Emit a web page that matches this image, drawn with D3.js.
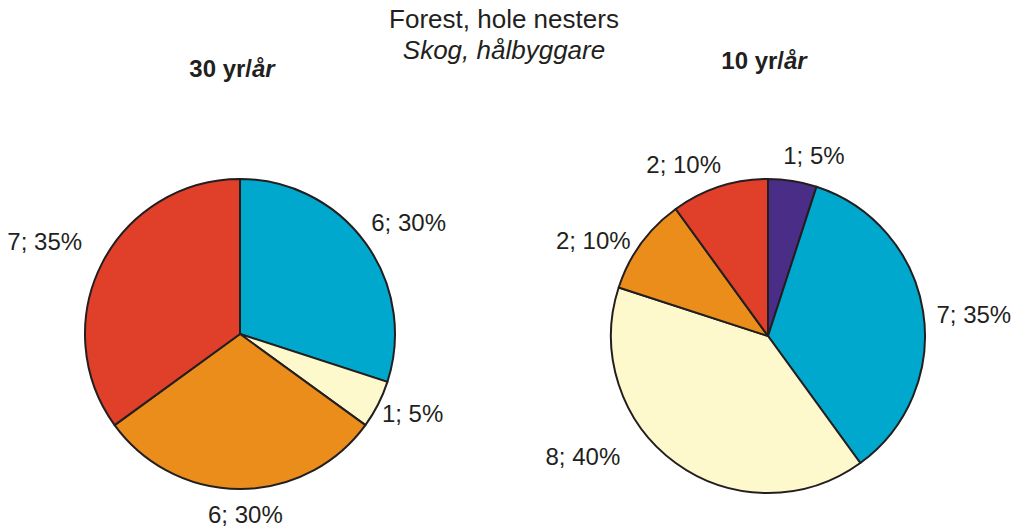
<!DOCTYPE html>
<html>
<head>
<meta charset="utf-8">
<script src="https://cdn.jsdelivr.net/npm/d3@7"></script>
<style>
  html, body { margin: 0; padding: 0; background: #fff; }
  svg { display: block; }
  text { font-family: "Liberation Sans", Arial, Helvetica, sans-serif; fill: #231f20; }
</style>
</head>
<body>
<svg id="chart" width="1022" height="528"></svg>
<script>
// ---- data ----
const titleLines = ["Forest, hole nesters", "Skog, hålbyggare"];
const panelNames = ["30 yr/", "10 yr/"];
const panelNamesItalic = ["år", "år"];

const categories30 = ["blue", "lightyellow", "orange", "red"];
const values30 = [6, 1, 6, 7];
const percents30 = [30, 5, 30, 35];

const categories10 = ["purple", "blue", "lightyellow", "orange", "red"];
const values10 = [1, 7, 8, 2, 2];
const percents10 = [5, 35, 40, 10, 10];

// ---- styles / layout ----
const colorMap = {
  purple: "#4a2d86",
  blue: "#00a8cd",
  lightyellow: "#fef9cc",
  orange: "#eb8d1a",
  red: "#e03f29"
};
const textColor = "#231f20";

// label placement tweaks (angle shift in degrees, gap beyond radius in px)
const labelShift30 = [2.6, -2.3, -1.7, -1.7];
const labelGap30 = [47, 35, 26, 61];
const labelShift10 = [5.3, 2.9, 20.9, -7.4, -8.2];
const labelGap10 = [29, 50, 64, 42, 34];

const svg = d3.select("#chart");

// titles
svg.append("text").attr("x", 504).attr("y", 28).attr("text-anchor", "middle")
  .style("font-size", "26px").text(titleLines[0]);
svg.append("text").attr("x", 504).attr("y", 59).attr("text-anchor", "middle")
  .style("font-size", "26px").style("font-style", "italic").text(titleLines[1]);

function panelTitle(cx, y, i) {
  const t = svg.append("text").attr("x", cx).attr("y", y).attr("text-anchor", "middle")
    .style("font-size", "24px").style("font-weight", "bold");
  t.append("tspan").text(panelNames[i]);
  t.append("tspan").style("font-style", "italic").text(panelNamesItalic[i]);
}
panelTitle(232, 77, 0);
panelTitle(764, 69, 1);

function drawPie(cx, cy, r, cats, vals, pcts, shifts, gaps) {
  const g = svg.append("g").attr("transform", `translate(${cx},${cy})`);
  const pie = d3.pie().sort(null).value(d => d.v);
  const data = cats.map((c, i) => ({ c, v: vals[i], p: pcts[i], i }));
  const arcs = pie(data);
  const arc = d3.arc().innerRadius(0).outerRadius(r);
  g.selectAll("path").data(arcs).enter().append("path")
    .attr("d", arc)
    .attr("fill", d => colorMap[d.data.c])
    .attr("stroke", textColor)
    .attr("stroke-width", 2)
    .attr("stroke-linejoin", "round");
  g.selectAll("text.lbl").data(arcs).enter().append("text")
    .attr("class", "lbl")
    .attr("text-anchor", "middle")
    .attr("dy", "0.355em")
    .style("font-size", "24px")
    .attr("x", d => {
      const a = (d.startAngle + d.endAngle) / 2 + shifts[d.data.i] * Math.PI / 180;
      return Math.sin(a) * (r + gaps[d.data.i]);
    })
    .attr("y", d => {
      const a = (d.startAngle + d.endAngle) / 2 + shifts[d.data.i] * Math.PI / 180;
      return -Math.cos(a) * (r + gaps[d.data.i]);
    })
    .text(d => `${d.data.v}; ${d.data.p}%`);
}

drawPie(240, 334, 155, categories30, values30, percents30, labelShift30, labelGap30);
drawPie(768, 336, 157, categories10, values10, percents10, labelShift10, labelGap10);
</script>
</body>
</html>
